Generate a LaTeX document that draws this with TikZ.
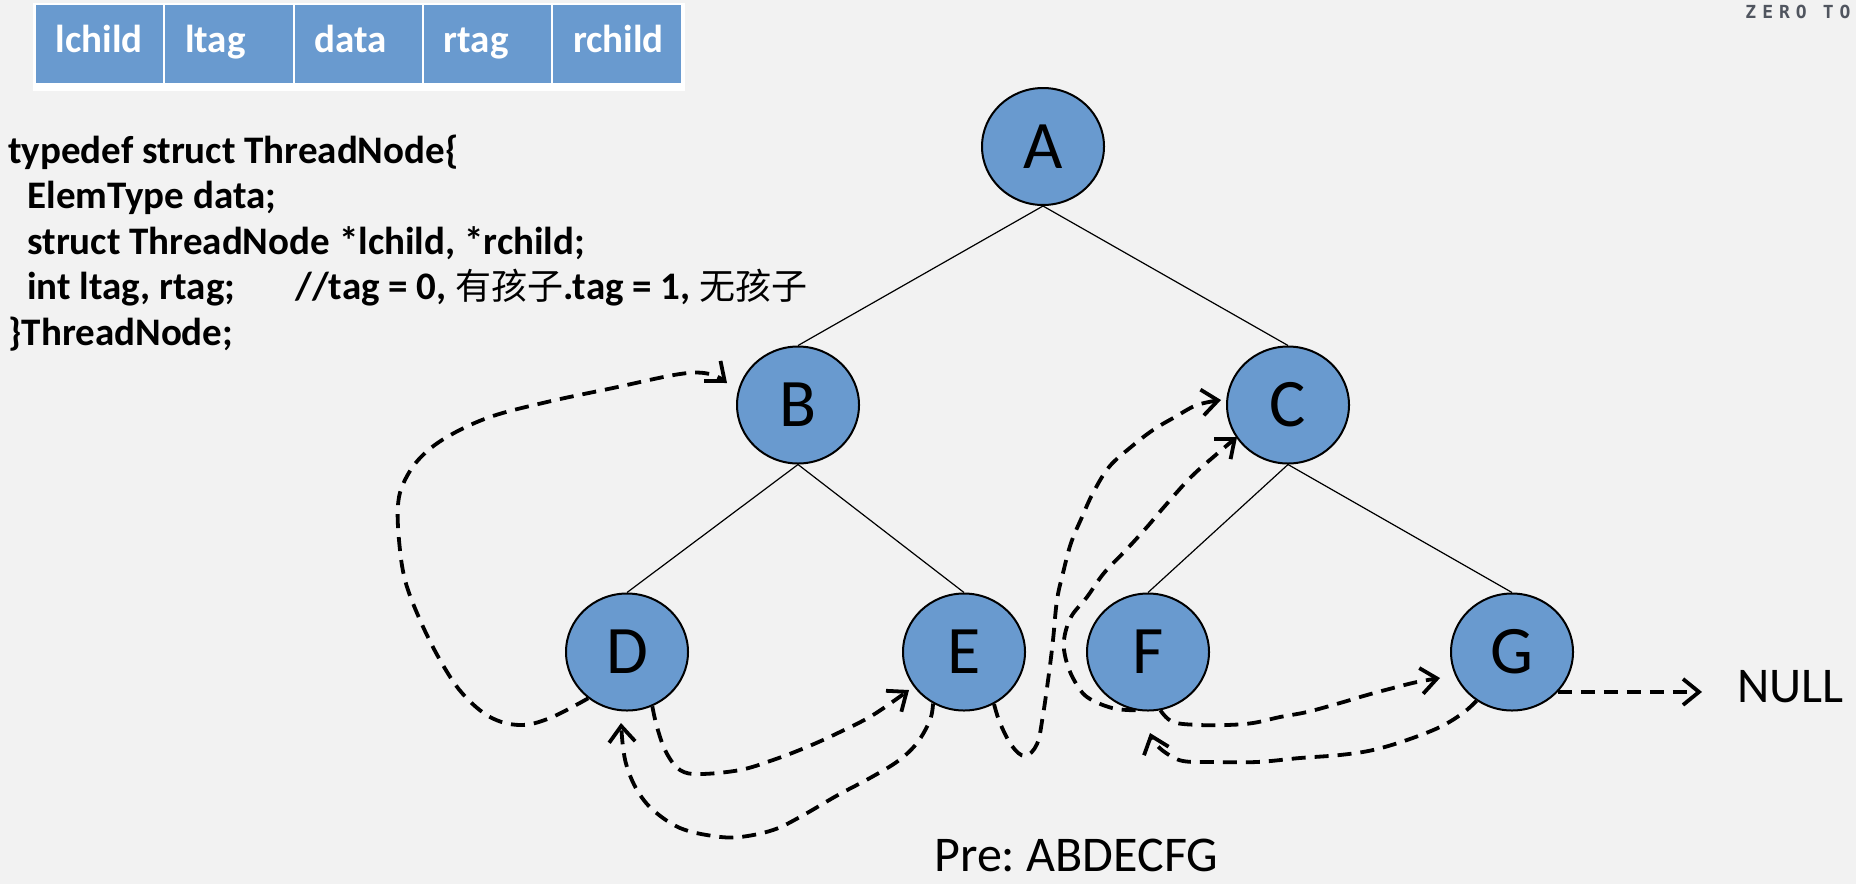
\documentclass[tikz,border=0pt]{standalone}
\usepackage{fontspec}
\setmainfont{Carlito}
\newfontfamily\cjk{Noto Sans CJK SC}
\newfontfamily\wmfont{DejaVu Sans Mono}
\usetikzlibrary{arrows.meta,shapes.geometric,calc}
\definecolor{bgc}{RGB}{242,242,242}
\definecolor{nodeblue}{RGB}{105,154,207}
\definecolor{wmgray}{RGB}{80,85,95}
\frenchspacing
\begin{document}
\frenchspacing
\begin{tikzpicture}[x=0.5pt,y=-0.5pt,
  tnode/.style={ellipse, draw=black, line width=1pt, fill=nodeblue,
    minimum width=61pt, minimum height=58.5pt, inner sep=0pt,
    font=\fontsize{34}{40}\selectfont},
  tedge/.style={line width=0.6pt},
  thread/.style={line width=1.9pt, dash pattern=on 7pt off 4.5pt,
    -{Straight Barb[length=8pt,width=13pt]}},
  cell/.style={fill=nodeblue, anchor=north west, minimum height=39pt,
    text width=43.75pt, inner xsep=10pt, inner ysep=0pt, align=left,
    text height=13pt, text depth=5pt, text=white,
    font=\bfseries\fontsize{19.5}{22}\selectfont},
  code/.style={anchor=base west, inner sep=0pt,
    font=\bfseries\fontsize{19.5}{22}\selectfont},
  plain/.style={anchor=base west, inner sep=0pt,
    font=\fontsize{25}{30}\selectfont}
  ]
\useasboundingbox (0,0) rectangle (1856,884);
\fill[bgc] (0,0) rectangle (1856,884);

% record layout table
\fill[white] (33,3) rectangle (685,91);
\node[cell] (c1) at (35.5,5) {lchild};
\node[cell] (c2) at (164.8,5) {ltag};
\node[cell] (c3) at (294.1,5) {data};
\node[cell] (c4) at (423.4,5) {rtag};
\node[cell] (c5) at (552.7,5) {rchild};

% watermark
\node[anchor=north west, inner sep=0pt, text=wmgray,
  font=\wmfont\bfseries\fontsize{9}{9}\selectfont] (wm) at (1745,5)
  {Z\hspace{3pt}E\hspace{3pt}R\hspace{3pt}O\hspace{8pt}T\hspace{3pt}O};

% code
\newcommand{\zh}[1]{{\cjk\mdseries\fontsize{18}{22}\selectfont #1}}
\node[code] (l1) at (8,163) {typedef struct ThreadNode\{};
\node[code] (l2) at (27,208.5) {ElemType data;};
\node[code] (l3) at (27,254) {struct ThreadNode *lchild, *rchild;};
\node[code] (l4) at (27,299.5) {int ltag, rtag;\hspace*{30pt}//tag = 0, \zh{有孩子}.tag = 1, \zh{无孩子}};
\node[code] (l5) at (8,345) {\}ThreadNode;};

% tree nodes
\node[tnode] (A) at (1043,146.5) {\raisebox{-6pt}{A}};
\node[tnode] (B) at (798,405) {\raisebox{-6pt}{B}};
\node[tnode] (C) at (1288,405) {\raisebox{-6pt}{C}};
\node[tnode] (D) at (627,652) {\raisebox{-6pt}{D}};
\node[tnode] (E) at (964,652) {\raisebox{-6pt}{E}};
\node[tnode] (F) at (1148,652) {\raisebox{-6pt}{F}};
\node[tnode] (G) at (1512,652) {\raisebox{-6pt}{G}};

\node[plain] (NULL) at (1737,702) {NULL};
\node[plain] (pre) at (934,871) {Pre: ABDECFG};

% tree edges
\draw[tedge] (A.south) -- (B.north);
\draw[tedge] (A.south) -- (C.north);
\draw[tedge] (B.south) -- (D.north);
\draw[tedge] (B.south) -- (E.north);
\draw[tedge] (C.south) -- (F.north);
\draw[tedge] (C.south) -- (G.north);

% thread end points
\coordinate (tDB) at ($(B.center)+(-71,-22)$);
\coordinate (tDE) at ($(E.center)+(-55,38)$);
\coordinate (tED) at ($(D.center)+(-6,71)$);
\coordinate (tEC) at ($(C.center)+(-67,-5)$);
\coordinate (tFC) at ($(C.center)+(-51,32)$);
\coordinate (tFG) at ($(G.center)+(-72,26)$);
\coordinate (tGF) at ($(F.center)+(2,81)$);

% threads
\draw[thread] plot[smooth, tension=0.6] coordinates {(D.230) (550,718) (520,725) (490,717) (462,693) (440,660) (420,620) (405,580) (399,540) (398,505) (404,482) (420,458) (447,437) (490,417) (547,402) (613,388) (680,374) (710,374) (tDB)};
\draw[thread] plot[smooth, tension=0.6] coordinates {(D.-65) (657,727) (666,752) (680,770) (700,774) (740,770) (773,760) (807,747) (840,732) (873,715) (tDE)};
\draw[thread] plot[smooth, tension=0.6] coordinates {(E.239) (930,720) (917,743) (898,761) (870,778) (838,795) (800,817) (773,830) (740,837) (713,836) (680,828) (653,810) (637,790) (627,767) (623,747) (tED)};
\draw[thread] plot[smooth, tension=0.6] coordinates {(E.-60) (1000,723) (1012,746) (1025,756) (1037,744) (1043,715) (1049,673) (1053,640) (1057,600) (1063,573) (1071,543) (1082,517) (1093,493) (1109,467) (1131,447) (1153,430) (1175,417) (1197,405) (tEC)};
\draw[thread] plot[smooth, tension=0.6] coordinates {(F.258) (1112,708) (1087,697) (1074,680) (1066,660) (1064,640) (1071,617) (1087,597) (1104,573) (1126,550) (1147,527) (1164,507) (1191,477) (1218,453) (tFC)};
\draw[thread] plot[smooth, tension=0.6] coordinates {(F.-78) (1173,722) (1200,725) (1227,725) (1253,723) (1280,717) (1307,712) (1340,703) (1367,695) (1393,688) (1417,682) (tFG)};
\draw[thread] plot[smooth, tension=0.6] coordinates {(G.234) (1463,713) (1440,727) (1407,740) (1373,750) (1340,755) (1300,758) (1257,762) (1213,762) (1183,761) (1166,753) (1155,743) (tGF)};
\draw[thread, shorten >=17.5pt] (G.-41) -- (G.-41 -| NULL.west);
\end{tikzpicture}
\end{document}
